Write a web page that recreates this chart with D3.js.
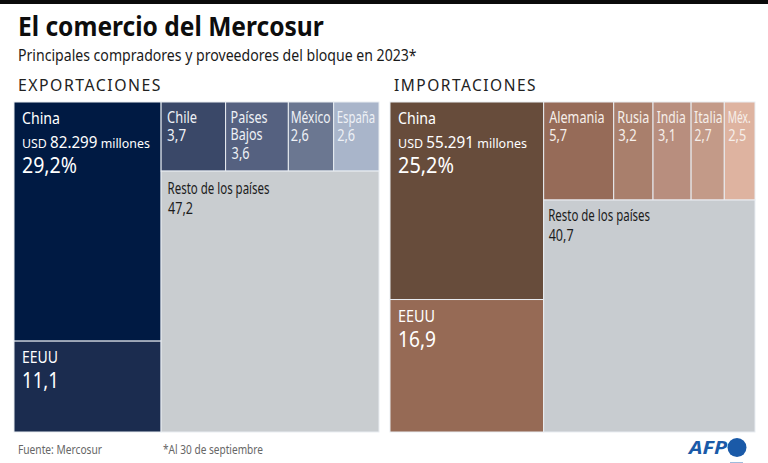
<!DOCTYPE html>
<html><head><meta charset="utf-8">
<script src="https://cdn.jsdelivr.net/npm/d3@7"></script>
<style>html,body{margin:0;padding:0;background:#fff}svg{display:block}text{font-family:"Noto Sans",sans-serif}</style>
</head><body><svg id="c" width="768" height="463"></svg>
<script>
const expLeftNames = ["China","EEUU"];
const expLeftValues = [29.2,11.1];
const expTopNames = ["Chile","Países Bajos","México","España"];
const expTopValues = [3.7,3.6,2.6,2.6];
const expRestName = "Resto de los países";
const expRestValue = 47.2;
const expChinaUsd = "82.299";
const impLeftNames = ["China","EEUU"];
const impLeftValues = [25.2,16.9];
const impTopNames = ["Alemania","Rusia","India","Italia","Méx."];
const impTopValues = [5.7,3.2,3.1,2.7,2.5];
const impRestName = "Resto de los países";
const impRestValue = 40.7;
const impChinaUsd = "55.291";

const expColors = {"China":"#001a43","EEUU":"#1b2c4f","Chile":"#3a4868","Países Bajos":"#556180","México":"#6b7791","España":"#a9b5ca","Resto de los países":"#c9cdd0"};
const impColors = {"China":"#674c3b","EEUU":"#966a55","Alemania":"#966b58","Rusia":"#a97f6c","India":"#b88e7e","Italia":"#c39a88","Méx.":"#deb3a0","Resto de los países":"#c8ccd0"};

const svg = d3.select("#c");
const fmt = v => String(v.toFixed(1)).replace(".", ",");

function fit(sel, x, y, w){
  const n = sel.node(), len = n.getComputedTextLength();
  sel.attr("transform", `translate(${x},${y}) scale(${w/len},1)`);
  return sel;
}
function txt(x,y,w,s,size,fill,weight){
  const t = svg.append("text").attr("font-size",size).attr("fill",fill).attr("font-weight",weight||400).text(s);
  return fit(t,x,y,w);
}

svg.append("rect").attr("x",0).attr("y",0).attr("width",768).attr("height",4).attr("fill","#0a0a0a");
txt(18,36,306,"El comercio del Mercosur",27,"#0d0d0d",700);
txt(18,61,399,"Principales compradores y proveedores del bloque en 2023*",16,"#1a1a1a");
txt(18,91,144,"EXPORTACIONES",16.5,"#222").attr("letter-spacing",1.6);
txt(394,91,143,"IMPORTACIONES",16.5,"#222").attr("letter-spacing",1.6);
fit(svg.selectAll("text").filter(function(){return d3.select(this).text()==="EXPORTACIONES"}),18,91,144);
fit(svg.selectAll("text").filter(function(){return d3.select(this).text()==="IMPORTACIONES"}),394,91,143);
txt(18,454,84,"Fuente: Mercosur",12.5,"#666");
txt(163,454,100,"*Al 30 de septiembre",12.5,"#666");

function build(leftN,leftV,topN,topV,restN,restV){
  return {name:"root",children:[
    {name:"left",children:leftN.map((n,i)=>({name:n,value:leftV[i]}))},
    {name:"right",children:[
      {name:"top",children:topN.map((n,i)=>({name:n,value:topV[i]}))},
      {name:restN,value:restV}
    ]}
  ]};
}
function draw(data,x0,y0,w,h,colors,labelFn){
  const root = d3.hierarchy(data).sum(d=>d.value||0);
  d3.treemap().size([w,h]).tile(d3.treemapSliceDice).round(false)(root);
  const g = svg.append("g").attr("transform",`translate(${x0},${y0})`);
  g.selectAll("rect").data(root.leaves()).join("rect")
    .attr("x",d=>d.x0).attr("y",d=>d.y0)
    .attr("width",d=>d.x1-d.x0).attr("height",d=>d.y1-d.y0)
    .attr("fill",d=>colors[d.data.name])
    .attr("stroke","#e9edf2").attr("stroke-width",1);
  root.leaves().forEach(d=>labelFn(d,x0+d.x0,y0+d.y0));
}

// Label geometry per treemap cell: [dx of label, name width, dx of value, value width]
const lay = {
  e:{"Chile":[6,30,6,19],"México":[2.3,40,2.5,18],"España":[3,38.5,3.5,18]},
  i:{"Alemania":[5.5,55.5,5.5,18],"Rusia":[3.6,32,4.6,18.5],"India":[3.7,29,5,18],"Italia":[2.9,28.7,3.5,17],"Méx.":[3.4,23,4,18]}
};
function chinaLabel(d,x,y,usd,pct,wName,wUsd,wPct){
  txt(x+8,y+22,wName,d.data.name,16.5,"#fff");
  const t = svg.append("text").attr("fill","#fff").attr("font-size",13.5);
  t.append("tspan").text("USD ");
  t.append("tspan").attr("font-size",16.5).text(usd);
  t.append("tspan").text(" millones");
  fit(t,x+8,y+46,wUsd);
  txt(x+8,y+71,wPct,fmt(pct)+"%",22,"#fff");
}
function eeuuLabel(d,x,y,wName,wVal){
  txt(x+8,y+22,wName,d.data.name,16,"#fff");
  txt(x+8,y+47,wVal,fmt(d.value),22,"#fff");
}
function restLabel(d,x,y,dx,dy){
  txt(x+dx,y+dy,102,d.data.name,15.5,"#1c1c1c");
  txt(x+dx+0.5,y+dy+20,25,fmt(d.value),15.5,"#1c1c1c");
}

draw(build(expLeftNames,expLeftValues,expTopNames,expTopValues,expRestName,expRestValue),14,102,365,330,expColors,(d,x,y)=>{
  const n=d.data.name;
  if(n==="China") chinaLabel(d,x,y,expChinaUsd,d.value,38,128,55);
  else if(n==="EEUU") eeuuLabel(d,x,y,36,37);
  else if(n===expRestName) restLabel(d,x,y,6.5,23);
  else if(n==="Países Bajos"){
    const [a,b]=n.split(" ");
    txt(x+5,y+20.5,37,a,15.5,"#eef1f6");
    txt(x+5,y+38,32,b,15.5,"#eef1f6");
    txt(x+6,y+57,18,fmt(d.value),15.5,"#eef1f6");
  } else {
    const l=lay.e[n];
    txt(x+l[0],y+20.7,l[1],n,15.5,"#eef1f6");
    txt(x+l[2],y+38.7,l[3],fmt(d.value),15.5,"#eef1f6");
  }
});
draw(build(impLeftNames,impLeftValues,impTopNames,impTopValues,impRestName,impRestValue),390,102,365,330,impColors,(d,x,y)=>{
  const n=d.data.name;
  if(n==="China") chinaLabel(d,x,y,impChinaUsd,d.value,38,129,56);
  else if(n==="EEUU") eeuuLabel(d,x,y,37,38);
  else if(n===impRestName) restLabel(d,x,y,4.5,21);
  else {
    const l=lay.i[n];
    txt(x+l[0],y+20.7,l[1],n,15.5,"#f6efea");
    txt(x+l[2],y+38.7,l[3],fmt(d.value),15.5,"#f6efea");
  }
});

// AFP logo
const logo = svg.append("text").attr("font-size",17).attr("font-weight",700).attr("font-style","italic").attr("fill","#1a5aa8").text("AFP");
fit(logo,689,454,38);
svg.append("circle").attr("cx",737).attr("cy",447.5).attr("r",9.5).attr("fill","#1a5aa8");
svg.append("rect").attr("x",730).attr("y",462).attr("width",13).attr("height",1).attr("fill","#9fbbdc");
</script></body></html>
